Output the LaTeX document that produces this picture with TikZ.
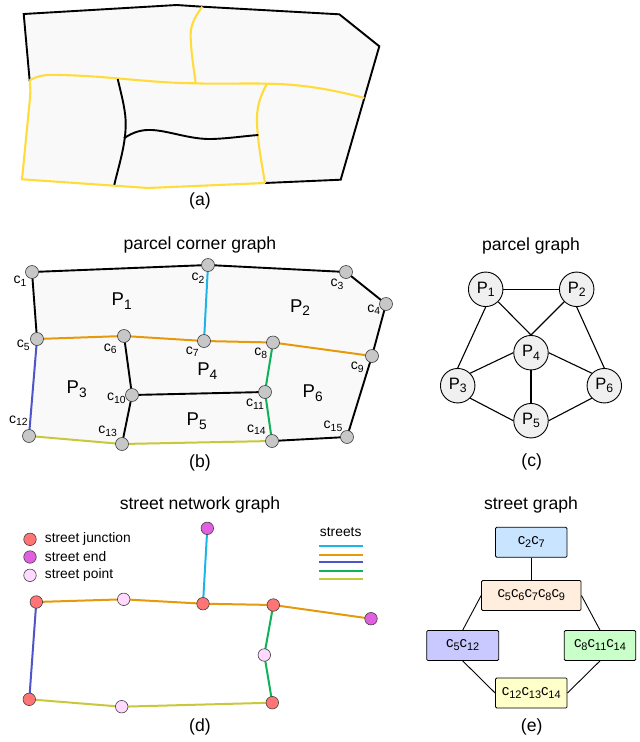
\documentclass[tikz,border=0pt]{standalone}
\usepackage{fontspec}
\setmainfont{Liberation Sans}
\definecolor{ylw}{HTML}{FFDC3C}
\definecolor{sblue}{HTML}{1FB4E8}
\definecolor{sorange}{HTML}{E69A0B}
\definecolor{sindigo}{HTML}{4F55C8}
\definecolor{sgreen}{HTML}{0FB25A}
\definecolor{solive}{HTML}{C8C83C}
\definecolor{parcelfill}{HTML}{F9F9F9}
\definecolor{fjunction}{HTML}{FF7575}
\definecolor{fend}{HTML}{E060E0}
\definecolor{fpoint}{HTML}{FFD9FF}
\definecolor{boxblue}{HTML}{C9E4FF}
\definecolor{boxorange}{HTML}{FFEEDD}
\definecolor{boxindigo}{HTML}{C9C9FF}
\definecolor{boxgreen}{HTML}{C9FFC9}
\definecolor{boxyellow}{HTML}{FFFFC9}
\newcommand{\fs}[1]{\fontsize{#1}{#1}\selectfont}
\newcommand{\lowsub}[1]{\raisebox{-.2em}{\scalebox{.74}{#1}}}
\tikzset{
  x=1pt,y=-1pt,
  title/.style={font=\fs{17.6}},
  corner/.style={circle,draw=black!75,line width=.6pt,fill=black!22,minimum size=13pt,inner sep=0pt},
  clabel/.style={font=\fs{14},inner sep=0pt},
  plabel/.style={font=\fs{18.5},inner sep=0pt},
  parcelnode/.style={circle,draw=black,line width=.9pt,fill=black!6,minimum size=34.5pt,inner sep=0pt,font=\fs{16.5}},
  junction/.style={circle,draw=black!75,line width=.6pt,fill=fjunction,minimum size=12.5pt,inner sep=0pt},
  endpt/.style={circle,draw=black!75,line width=.6pt,fill=fend,minimum size=12.5pt,inner sep=0pt},
  streetpt/.style={circle,draw=black!75,line width=.6pt,fill=fpoint,minimum size=12.5pt,inner sep=0pt},
  legendtext/.style={font=\fs{13.8},anchor=west,inner sep=0pt},
  gbox/.style={draw=black,line width=.8pt,rounded corners=1.2pt,minimum height=30pt,inner sep=0pt,font=\fs{14.8}},
  gedge/.style={line width=1.1pt},
  sedge/.style={line width=2pt},
  outline/.style={line width=1.9pt},
  ylwline/.style={ylw,line width=2.1pt},
}
\begin{document}
\begin{tikzpicture}
\useasboundingbox (0,0) rectangle (640,742);
% ---------- (a)
\fill[parcelfill] (23.7,14)--(176.7,5)--(202.3,6.7)--(339.3,14.3)--(379.3,46.3)--(340.7,179.7)--(265,183)--(148,188)--(22,179.3)--(30,90)--cycle;
\draw[outline] (29.7,81)--(23.7,14)--(176.7,5)--(202.3,6.7)--(339.3,14.3)--(379.3,46.3)--(340.7,179.7)--(265,183);
\draw[ylwline] (29.7,81) .. controls (30.5,88) and (30.5,92) .. (30,98) -- (22,179.3)--(148,188)--(265,183);
\draw[ylwline] (29.3,80.7) .. controls (38,75) and (47,74.5) .. (60,75) .. controls (110,76) and (150,83) .. (195.7,83.3) .. controls (220,84.3) and (245,83) .. (266.7,83.7) .. controls (300,84) and (330,89) .. (364.3,98);
\draw[ylwline] (202.3,6.7) .. controls (194,18) and (190,26) .. (190.7,38) .. controls (191,52) and (194,70) .. (195.7,83.3);
\draw[ylwline] (266.7,84) .. controls (260,97) and (256.5,107) .. (257,122) .. controls (257.5,142) and (262,165) .. (265,183);
\draw[outline] (117.7,79) .. controls (122,97) and (126,112) .. (125.7,125) .. controls (125.5,145) and (119,165) .. (114.3,184.7);
\draw[outline] (124,138.3) .. controls (133,132) and (142,129.5) .. (152,130) .. controls (170,131) and (190,139.5) .. (212,139) .. controls (228,138.5) and (245,136) .. (258.3,135);
\node[title] (capa) at (200,201) {(a)};
% ---------- (b)
\node[title] (titleb) at (200,245) {parcel corner graph};
\fill[parcelfill] (32,272)--(208,265)--(346,272)--(386,304)--(372,356)--(347,437)--(272,441)--(122,444)--(29,436)--(37,339)--cycle;
\coordinate (c1) at (32,272);
\coordinate (c2) at (208,265);
\coordinate (c3) at (346,272);
\coordinate (c4) at (386,304);
\coordinate (c5) at (37,339);
\coordinate (c6) at (124,336);
\coordinate (c7) at (204,341);
\coordinate (c8) at (273,342.5);
\coordinate (c9) at (372,356);
\coordinate (c10) at (132,395);
\coordinate (c11) at (265,392);
\coordinate (c12) at (29,436);
\coordinate (c13) at (122,444);
\coordinate (c14) at (272,441);
\coordinate (c15) at (347,437);
\draw[outline] (c1)--(c2); \draw[outline] (c2)--(c3);
\draw[outline] (c3)--(c4); \draw[outline] (c4)--(c9);
\draw[outline] (c9)--(c15); \draw[outline] (c15)--(c14);
\draw[outline] (c1)--(c5); \draw[outline] (c6)--(c10);
\draw[outline] (c10)--(c13); \draw[outline] (c10)--(c11);
\draw[sblue,sedge] (c2)--(c7);
\draw[sorange,sedge] (c5)--(c6); \draw[sorange,sedge] (c6)--(c7);
\draw[sorange,sedge] (c7)--(c8); \draw[sorange,sedge] (c8)--(c9);
\draw[sindigo,sedge] (c5)--(c12);
\draw[sgreen,sedge] (c8)--(c11); \draw[sgreen,sedge] (c11)--(c14);
\draw[solive,sedge] (c12)--(c13); \draw[solive,sedge] (c13)--(c14);
\foreach \n in {c1,c2,c3,c4,c5,c6,c7,c8,c9,c10,c11,c12,c13,c14,c15}
  \node[corner] (n\n) at (\n) {};
\node[clabel] (l1) at (20,281) {c\lowsub{1}};
\node[clabel] (l2) at (198,278) {c\lowsub{2}};
\node[clabel] (l3) at (337,284) {c\lowsub{3}};
\node[clabel] (l4) at (373.7,309.7) {c\lowsub{4}};
\node[clabel] (l5) at (23.3,345) {c\lowsub{5}};
\node[clabel] (l6) at (110.3,348.7) {c\lowsub{6}};
\node[clabel] (l7) at (192.3,351.7) {c\lowsub{7}};
\node[clabel] (l8) at (260.7,353) {c\lowsub{8}};
\node[clabel] (l9) at (357.3,367) {c\lowsub{9}};
\node[clabel] (l10) at (116.3,398.3) {c\lowsub{10}};
\node[clabel] (l11) at (255,404) {c\lowsub{11}};
\node[clabel] (l12) at (18.3,420.7) {c\lowsub{12}};
\node[clabel] (l13) at (107.7,431) {c\lowsub{13}};
\node[clabel] (l14) at (256.3,429.7) {c\lowsub{14}};
\node[clabel] (l15) at (333,426) {c\lowsub{15}};
\node[plabel] (p1) at (121.7,301) {P\lowsub{1}};
\node[plabel] (p2) at (300,307.7) {P\lowsub{2}};
\node[plabel] (p3) at (76.7,389.3) {P\lowsub{3}};
\node[plabel] (p4) at (207.3,371.3) {P\lowsub{4}};
\node[plabel] (p5) at (196.7,421) {P\lowsub{5}};
\node[plabel] (p6) at (312.7,393.3) {P\lowsub{6}};
\node[title] (capb) at (200,463) {(b)};
% ---------- (c)
\node[title] (titlec) at (531,245.7) {parcel graph};
\node[parcelnode] (P1) at (485.7,289.3) {P\lowsub{1}};
\node[parcelnode] (P2) at (576.7,289.3) {P\lowsub{2}};
\node[parcelnode] (P3) at (457.7,385.7) {P\lowsub{3}};
\node[parcelnode] (P4) at (531,352.7) {P\lowsub{4}};
\node[parcelnode] (P5) at (531,420.7) {P\lowsub{5}};
\node[parcelnode] (P6) at (604.3,385.7) {P\lowsub{6}};
\draw[gedge] (P1.east)--(P2.west);
\draw[gedge] (P1.south)--(P3.north);
\draw[gedge] (P1.south east)--(P4.north);
\draw[gedge] (P2.south west)--(P4.north);
\draw[gedge] (P2.south)--(P6.north);
\draw[gedge] (P3.north east)--(P4.west);
\draw[gedge] (P3.south east)--(P5.west);
\draw[gedge] (P4.south)--(P5.north);
\draw[gedge] (P4.east)--(P6.north west);
\draw[gedge] (P5.east)--(P6.south west);
\node[title] (capc) at (531.7,461.7) {(c)};
% ---------- (d)
\node[title] (titled) at (200,505) {street network graph};
\coordinate (d1) at (207.3,528.3);
\coordinate (d2) at (36.3,602);
\coordinate (d3) at (123.7,599.3);
\coordinate (d4) at (203,603.7);
\coordinate (d5) at (273.3,605);
\coordinate (d6) at (371,618.7);
\coordinate (d7) at (264.3,655);
\coordinate (d8) at (29.3,699.3);
\coordinate (d9) at (121.7,706.7);
\coordinate (d10) at (272.3,702.7);
\draw[sblue,sedge] (d1)--(d4);
\draw[sorange,sedge] (d2)--(d3); \draw[sorange,sedge] (d3)--(d4);
\draw[sorange,sedge] (d4)--(d5); \draw[sorange,sedge] (d5)--(d6);
\draw[sindigo,sedge] (d2)--(d8);
\draw[sgreen,sedge] (d5)--(d7); \draw[sgreen,sedge] (d7)--(d10);
\draw[solive,sedge] (d8)--(d9); \draw[solive,sedge] (d9)--(d10);
\node[endpt] (nd1) at (d1) {};
\node[junction] (nd2) at (d2) {};
\node[streetpt] (nd3) at (d3) {};
\node[junction] (nd4) at (d4) {};
\node[junction] (nd5) at (d5) {};
\node[endpt] (nd6) at (d6) {};
\node[streetpt] (nd7) at (d7) {};
\node[junction] (nd8) at (d8) {};
\node[streetpt] (nd9) at (d9) {};
\node[junction] (nd10) at (d10) {};
\node[junction] (k1) at (30,539.3) {};
\node[endpt] (k2) at (30,557) {};
\node[streetpt] (k3) at (30,575.3) {};
\node[legendtext] (kt1) at (44.7,539.3) {street junction};
\node[legendtext] (kt2) at (44.7,557) {street end};
\node[legendtext] (kt3) at (44.7,575.3) {street point};
\node[font=\fs{13.8},inner sep=0pt] (kst) at (340.7,532.3) {streets};
\coordinate (s1a) at (319,546.3); \coordinate (s1b) at (363,546.3);
\coordinate (s2a) at (319,554.7); \coordinate (s2b) at (363,554.7);
\coordinate (s3a) at (319,562.3); \coordinate (s3b) at (363,562.3);
\coordinate (s4a) at (319,570.7); \coordinate (s4b) at (363,570.7);
\coordinate (s5a) at (319,579); \coordinate (s5b) at (363,579);
\draw[sblue,sedge] (s1a)--(s1b);
\draw[sorange,sedge] (s2a)--(s2b);
\draw[sindigo,sedge] (s3a)--(s3b);
\draw[sgreen,sedge] (s4a)--(s4b);
\draw[solive,sedge] (s5a)--(s5b);
\node[title] (capd) at (200,727) {(d)};
% ---------- (e)
\node[title] (titlee) at (531,505) {street graph};
\node[gbox,fill=boxblue,minimum width=71.5pt] (e1) at (531.3,542.3) {c\lowsub{2}c\lowsub{7}};
\node[gbox,fill=boxorange,minimum width=99.5pt] (e2) at (531.3,595.5) {c\lowsub{5}c\lowsub{6}c\lowsub{7}c\lowsub{8}c\lowsub{9}};
\node[gbox,fill=boxindigo,minimum width=72pt] (e3) at (462.7,645.5) {c\lowsub{5}c\lowsub{12}};
\node[gbox,fill=boxgreen,minimum width=71.5pt] (e4) at (600,645.5) {c\lowsub{8}c\lowsub{11}c\lowsub{14}};
\node[gbox,fill=boxyellow,minimum width=71.5pt] (e5) at (531.3,693) {c\lowsub{12}c\lowsub{13}c\lowsub{14}};
\draw[line width=.9pt] (e1)--(e2);
\draw[line width=.9pt] (e2.west)--(e3.north);
\draw[line width=.9pt] (e2.east)--(e4.north);
\draw[line width=.9pt] (e3.south)--(e5.west);
\draw[line width=.9pt] (e4.south)--(e5.east);
\node[title] (cape) at (531.7,727) {(e)};
\end{tikzpicture}
\end{document}
